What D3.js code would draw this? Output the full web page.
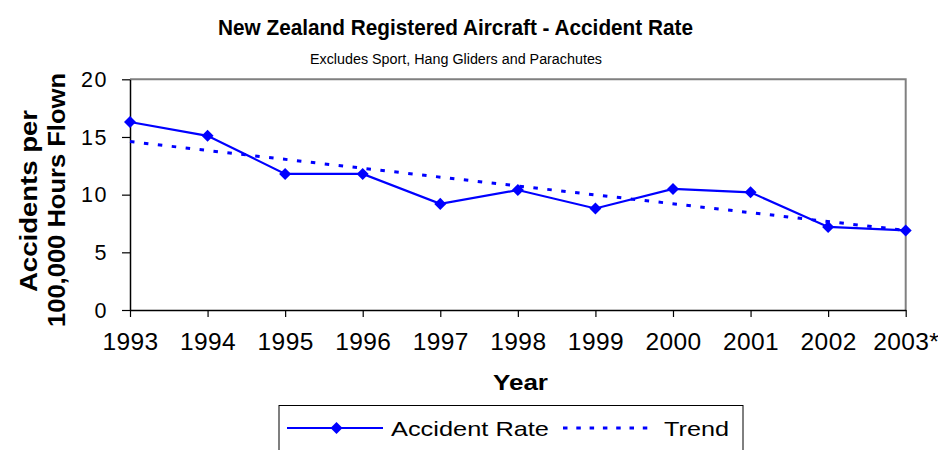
<!DOCTYPE html>
<html>
<head>
<meta charset="utf-8">
<script src="https://cdn.jsdelivr.net/npm/d3@7"></script>
<style>
  html, body { margin: 0; padding: 0; background: #fff; }
  svg { display: block; font-family: Arial, "Liberation Sans", sans-serif; }
</style>
</head>
<body>
<svg id="chart" width="938" height="450"></svg>
<script>
const years = ["1993","1994","1995","1996","1997","1998","1999","2000","2001","2002","2003*"];
const accidentRate = [16.3, 15.1, 11.8, 11.8, 9.2, 10.4, 8.8, 10.5, 10.2, 7.2, 6.9];
const trendYears = ["1993", "2003*"];
const trendValues = [14.6, 6.9];
const yTicks = [0, 5, 10, 15, 20];
const titleText = "New Zealand Registered Aircraft - Accident Rate";
const subtitleText = "Excludes Sport, Hang Gliders and Parachutes";
const xTitle = "Year";
const yTitleLines = ["Accidents per", "100,000 Hours Flown"];
const seriesNames = ["Accident Rate", "Trend"];

const blue = "#0000ff";
const svg = d3.select("#chart");
const plot = { left: 130, right: 905.7, top: 79.3, bottom: 310 };

const x = d3.scalePoint().domain(years).range([plot.left, plot.right]).padding(0);
const y = d3.scaleLinear().domain([0, 20]).range([plot.bottom, plot.top]);

// plot border (top/right grey)
svg.append("path")
  .attr("d", `M${plot.left},${plot.top}H${plot.right}V${plot.bottom}`)
  .attr("fill", "none").attr("stroke", "#808080").attr("stroke-width", 2);

// axes
const yAxis = svg.append("g").attr("transform", `translate(${plot.left},0)`)
  .call(d3.axisLeft(y).tickValues(yTicks).tickSize(8).tickSizeOuter(0).tickPadding(14));
const xAxis = svg.append("g").attr("transform", `translate(0,${plot.bottom})`)
  .call(d3.axisBottom(x).tickSize(7).tickSizeOuter(0).tickPadding(20));
[xAxis, yAxis].forEach(g => {
  g.select(".domain").attr("stroke", "#000").attr("stroke-width", 1.5);
  g.selectAll(".tick line").attr("stroke", "#000").attr("stroke-width", 1.2);
  g.selectAll("text").attr("fill", "#000")
    .attr("font-family", "Arial, 'Liberation Sans', sans-serif");
});
yAxis.selectAll("text").attr("font-size", 21.5).attr("dy", "0.33em").attr("letter-spacing", 1.5);
xAxis.selectAll("text").attr("font-size", 24.5).attr("dy", "0.55em").attr("letter-spacing", 0.4);

// trend
svg.append("path")
  .datum(trendYears.map((d, i) => [d, trendValues[i]]))
  .attr("d", d3.line().x(d => x(d[0])).y(d => y(d[1])))
  .attr("fill", "none").attr("stroke", blue).attr("stroke-width", 3)
  .attr("stroke-dasharray", "4.5,9.5");

// accident rate line
const pts = years.map((d, i) => [d, accidentRate[i]]);
svg.append("path")
  .datum(pts)
  .attr("d", d3.line().x(d => x(d[0])).y(d => y(d[1])))
  .attr("fill", "none").attr("stroke", blue).attr("stroke-width", 2.2);

const diamond = d3.symbol().type(d3.symbolDiamond2).size(92);
svg.append("g").selectAll("path").data(pts).join("path")
  .attr("transform", d => `translate(${x(d[0])},${y(d[1])})`)
  .attr("d", diamond).attr("fill", blue);

// titles
svg.append("text").attr("x", 455.5).attr("y", 34.5).attr("text-anchor", "middle")
  .attr("font-size", 22).attr("font-weight", "bold")
  .attr("textLength", 475).attr("lengthAdjust", "spacingAndGlyphs").text(titleText);
svg.append("text").attr("x", 456).attr("y", 64).attr("text-anchor", "middle")
  .attr("font-size", 15.5)
  .attr("textLength", 292).attr("lengthAdjust", "spacingAndGlyphs").text(subtitleText);
svg.append("text").attr("x", 520.5).attr("y", 390).attr("text-anchor", "middle")
  .attr("font-size", 21.5).attr("font-weight", "bold")
  .attr("textLength", 55).attr("lengthAdjust", "spacingAndGlyphs").text(xTitle);
svg.append("text").attr("transform", "translate(37,201) rotate(-90)")
  .attr("text-anchor", "middle").attr("font-size", 24).attr("font-weight", "bold")
  .attr("textLength", 182).attr("lengthAdjust", "spacingAndGlyphs").text(yTitleLines[0]);
svg.append("text").attr("transform", "translate(64.5,200) rotate(-90)")
  .attr("text-anchor", "middle").attr("font-size", 24).attr("font-weight", "bold")
  .attr("textLength", 254).attr("lengthAdjust", "spacingAndGlyphs").text(yTitleLines[1]);

// legend
const lg = svg.append("g");
lg.append("rect").attr("x", 279).attr("y", 405.5).attr("width", 464).attr("height", 60)
  .attr("fill", "#fff").attr("stroke", "#000").attr("stroke-width", 1);
lg.append("line").attr("x1", 287).attr("x2", 383).attr("y1", 428).attr("y2", 428)
  .attr("stroke", blue).attr("stroke-width", 2.2);
lg.append("path").attr("transform", "translate(336.5,428)").attr("d", diamond).attr("fill", blue);
lg.append("text").attr("x", 391).attr("y", 435.5).attr("font-size", 21)
  .attr("textLength", 158).attr("lengthAdjust", "spacingAndGlyphs").text(seriesNames[0]);
lg.append("line").attr("x1", 563).attr("x2", 656).attr("y1", 428).attr("y2", 428)
  .attr("stroke", blue).attr("stroke-width", 3).attr("stroke-dasharray", "4.5,8.8");
lg.append("text").attr("x", 664).attr("y", 435.5).attr("font-size", 21)
  .attr("textLength", 65).attr("lengthAdjust", "spacingAndGlyphs").text(seriesNames[1]);
</script>
</body>
</html>
